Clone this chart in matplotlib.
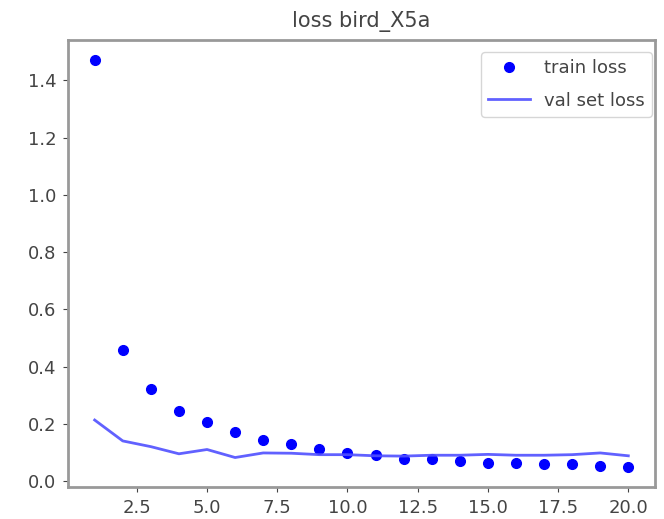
import matplotlib
matplotlib.use("Agg")
import matplotlib.pyplot as plt

epochs = list(range(1, 21))
train_loss = [1.47, 0.457, 0.32, 0.244, 0.206, 0.171, 0.143, 0.128, 0.112, 0.098,
              0.092, 0.078, 0.077, 0.071, 0.064, 0.063, 0.06, 0.059, 0.051, 0.05]
val_loss = [0.213, 0.14, 0.12, 0.095, 0.11, 0.082, 0.098, 0.097, 0.092, 0.092,
            0.088, 0.087, 0.09, 0.09, 0.093, 0.09, 0.09, 0.092, 0.098, 0.088]

fig = plt.figure(figsize=(6.64, 5.19), dpi=100)
ax = fig.add_axes([68/664, 1 - 487/519, 587/664, 447/519])
ax.plot(epochs, train_loss, 'bo', markersize=7, label='train loss')
ax.plot(epochs, val_loss, color='#5050ff', linewidth=2, alpha=0.9, label='val set loss')
ax.set_title('loss bird_X5a', fontsize=15, color='#444444', pad=9)
ax.set_xticks([2.5, 5.0, 7.5, 10.0, 12.5, 15.0, 17.5, 20.0])
ax.set_yticks([0.0, 0.2, 0.4, 0.6, 0.8, 1.0, 1.2, 1.4])
ax.tick_params(labelsize=13, colors='#444444', pad=5)
for s in ax.spines.values():
    s.set_color('#999999')
    s.set_linewidth(2)
leg = ax.legend(loc='upper right', bbox_to_anchor=(0.995, 0.973), borderaxespad=0,
                fontsize=13, labelspacing=0.8, handlelength=2.3)
for t in leg.get_texts():
    t.set_color('#444444')
fig.savefig('out.png', dpi=100)
